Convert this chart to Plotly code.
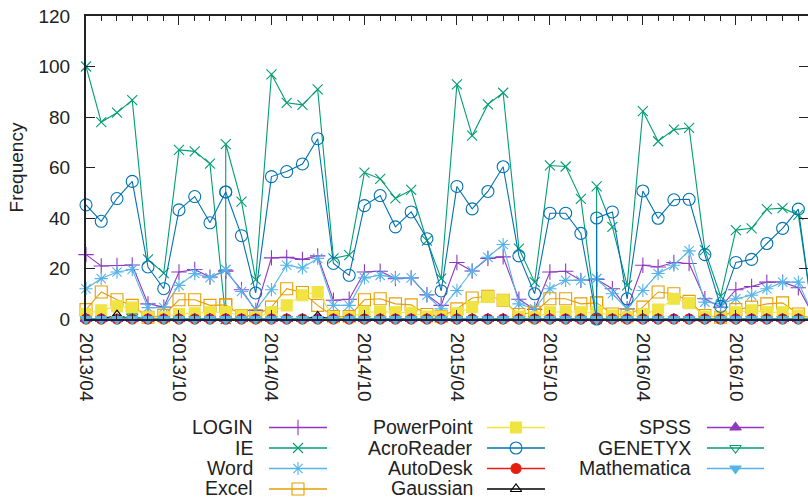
import plotly.graph_objects as go

# ---------------- data ----------------
dates = [
    "2013-04-01", "2013-05-01", "2013-06-01", "2013-07-01", "2013-08-01", "2013-09-01",
    "2013-10-01", "2013-11-01", "2013-12-01", "2014-01-01", "2014-01-01", "2014-02-01",
    "2014-03-01", "2014-04-01", "2014-05-01", "2014-06-01", "2014-07-01", "2014-08-01",
    "2014-09-01", "2014-10-01", "2014-11-01", "2014-12-01", "2015-01-01", "2015-02-01",
    "2015-03-01", "2015-04-01", "2015-05-01", "2015-06-01", "2015-07-01", "2015-08-01",
    "2015-09-01", "2015-10-01", "2015-11-01", "2015-12-01", "2016-01-01", "2016-01-01",
    "2016-02-01", "2016-03-01", "2016-04-01", "2016-05-01", "2016-06-01", "2016-07-01",
    "2016-08-01", "2016-09-01", "2016-10-01", "2016-11-01", "2016-12-01", "2017-01-01",
    "2017-02-01", "2017-03-01",
]

LOGIN = [25.5, 21, 21.2, 21.4, 6, 4.7, 18.6, 19.6, 16.6, 19, 19, 11.6, 3.4, 24.2, 24.4, 23.6, 25,
         7.4, 7.8, 18.6, 18.9, 16, 16.3, 9.6, 5.4, 22.4, 19, 24, 24.6, 7.8, 3.8, 18.6, 18.9, 15.3,
         15.7, 15.7, 12, 4, 21.3, 20.6, 22.4, 22, 8, 4.7, 11.6, 12.9, 14.6, 14.6, 12.4, 2]
IE = [100, 78, 81.7, 86.7, 23.6, 18.2, 67, 66.4, 61.5, 0, 69.3, 46.5, 15.6, 96.9, 85.6, 84.8, 90.9,
      24, 25.3, 58, 55.5, 47.8, 51.1, 31, 16, 92.9, 72.6, 85, 89.6, 27.9, 14.6, 60.8, 60.4, 47.6,
      0, 52.5, 36.5, 13.3, 82.3, 70.4, 75, 75.7, 27.3, 9, 35.2, 35.9, 43.5, 43.9, 41.2, 2]
Word = [12, 16, 18.6, 19.6, 4.5, 4.5, 13.3, 18, 16.4, 19.6, 19.6, 10.9, 3.7, 11.6, 21.3, 20.2, 24,
        5.4, 5.4, 16.3, 17.3, 16.3, 16.3, 9.4, 4, 11.3, 19, 24.4, 29.5, 6, 4, 12, 15.3, 15.3,
        16, 16, 10, 4, 11.3, 18, 21.3, 27, 6.7, 6, 8, 9.4, 12, 14.6, 14.6, 2]
Excel = [3.7, 10.7, 7.6, 5.4, 0.7, 1.4, 7.6, 7.6, 5.4, 5.6, 5.6, 1.4, 1.4, 4.7, 12, 10.5, 5.4,
         1, 1, 7.6, 8, 6, 5.6, 1.8, 1, 4, 8.3, 9, 7.4, 1.8, 2.7, 8, 8, 6,
         6.4, 6.4, 2, 1.4, 4.7, 10.7, 10, 7, 1.4, 0.7, 3.7, 4.7, 6, 6.4, 2, 0]
PowerPoint = [2, 3.4, 5, 4.5, 0.7, 0.7, 2, 2.3, 2.7, 2.7, 2.7, 1.4, 0.7, 2.7, 5.4, 9.4, 10.7,
              0.7, 0.7, 2.7, 2.9, 2.7, 2.5, 1, 1, 2.3, 4.7, 8.7, 7.4, 1, 0.7, 2.7, 2.9, 2.7,
              2.7, 2.7, 1.4, 0.7, 2, 3.7, 8, 6.3, 1, 0.7, 2.7, 3.4, 2.7, 2.7, 1.4, 0]
AcroReader = [45.2, 38.7, 47.7, 54.5, 20.6, 12, 43.2, 48.5, 38.1, 50.3, 50.3, 33, 10.3, 56.4, 58.4,
              61.4, 71.4, 22, 17.3, 44.9, 48.9, 36.5, 42.4, 31.8, 11.1, 52.5, 43.6, 50.5, 60.3, 25,
              10, 41.9, 41.9, 33.9, 0, 40, 42.4, 8, 50.7, 39.9, 47.2, 47.4, 25.5, 5, 22.4, 23.6,
              29.9, 35.9, 43.5, 2]
AutoDesk = [0, 0, 0, 0, 0, 0, 0, 0, 0, 0, 0, 0, 0, 0, 0, 0, 0, 0, 0, 0, 0, 0, 0, 0, 0,
            0, 0, 0, 0, 0, 0, 0, 0, 0, 0, 0, 0, 0, 0, 0, 0, 0, 0, 0, 0, 0, 0, 0, 0, 0]
Gaussian = [0, 0, 1.5, 0, 0, 0, 0, 0, 0, 0, 0, 0, 0, 0, 0, 0, 1, 0, 0, 0, 0, 0, 0, 0, 0,
            0, 0, 0, 0, 0, 0, 0, 0, 0, 0, 0, 0, 0, 0, 0, 0, 0, 0, 0, 0, 0, 0, 0, 0, 0]
SPSS = [0, 0, 0, 0, 0, 0, 0, 0, 0, 0, 0, 0, 0, 0, 0, 0, 0, 0, 0, 0, 0, 0, 0, 0, 0,
        0, 0, 0, 0, 0, 0, 0, 0, 0, 0, 0, 0, 0, 0, 0, 0, 0, 0, 0, 0, 0, 0, 0, 0, 0]
GENETYX = [0, 0, 0, 1, 0, 0, 0, 0, 0, 0, 0, 0, 0, 0, 0, 0, 0, 0, 0, 0, 0, 0, 0, 0, 0,
           0, 0, 0, 0, 0, 0, 0, 0, 0, 0, 0, 0, 0, 0, 0, 0, 0, 0, 0, 0, 0, 0, 0, 0, 0]
Mathematica = [0, 0, 0, 0, 0, 0, 0, 0, 0, 0, 0, 0, 0, 0, 0, 0, 0, 0, 0, 0, 0, 0, 0, 0, 0,
               0, 0, 0, 0, 0, 0, 0, 0, 0, 0, 0, 0, 0, 0, 0, 0, 0, 0, 0, 0, 0, 0, 0, 0, 0]

series_names = ["LOGIN", "IE", "Word", "Excel", "PowerPoint", "AcroReader", "AutoDesk",
                "Gaussian", "SPSS", "GENETYX", "Mathematica"]
series_values = [LOGIN, IE, Word, Excel, PowerPoint, AcroReader, AutoDesk, Gaussian,
                 SPSS, GENETYX, Mathematica]

tick_dates = ["2013-04-01", "2013-10-01", "2014-04-01", "2014-10-01", "2015-04-01",
              "2015-10-01", "2016-04-01", "2016-10-01"]
tick_labels = ["2013/04", "2013/10", "2014/04", "2014/10", "2015/04", "2015/10",
               "2016/04", "2016/10"]

# ---------------- styles ----------------
colors = ["#9038c0", "#009e73", "#56b4e9", "#e69f00", "#f0e442", "#0072b2", "#e51e10",
          "#000000", "#9038c0", "#009e73", "#56b4e9"]
symbols = ["cross-thin-open", "x-thin-open", "asterisk-open", "square-open", "square",
           "circle-open", "circle", "triangle-up-open", "triangle-up", "triangle-down-open",
           "triangle-down"]
sizes = [11, 10, 11, 12, 11, 12, 10, 10, 10, 10, 10]

FONT = "Liberation Sans, Arial, sans-serif"
W, H = 808, 499
ML, MT = 86, 16
PLOT_BOTTOM = 319
paper_h = H - MT
main_bottom = (H - PLOT_BOTTOM) / paper_h
leg_top_px = 410
leg_top = (H - leg_top_px) / paper_h

fig = go.Figure()

for name, vals, c, s, sz in zip(series_names, series_values, colors, symbols, sizes):
    fig.add_trace(go.Scatter(
        x=dates, y=vals, name=name, mode="lines+markers",
        line=dict(color=c, width=1.1),
        marker=dict(symbol=s, size=sz, color=c, line=dict(color=c, width=1.1)),
        cliponaxis=False, showlegend=False, xaxis="x", yaxis="y",
    ))

# ---------------- manual gnuplot-style key ----------------
col_text_right = [255, 475, 693]
col_line = [(269, 327), (487, 545), (707, 764)]
row_y = [427.5, 448, 468.5, 489]
text_row_y = [427, 447.5, 468, 487.5]
shapes = []
annotations = []
for k, (name, c, s, sz) in enumerate(zip(series_names, colors, symbols, sizes)):
    col, row = k // 4, k % 4
    x0, x1 = col_line[col]
    yy = row_y[row]
    shapes.append(dict(type="line", xref="x2", yref="y2", x0=x0, x1=x1, y0=yy, y1=yy,
                       line=dict(color=c, width=1.3)))
    fig.add_trace(go.Scatter(
        x=[(x0 + x1) / 2], y=[yy], mode="markers", showlegend=False, hoverinfo="skip",
        marker=dict(symbol=s, size=sz, color=c, line=dict(color=c, width=1.1)),
        cliponaxis=False, xaxis="x2", yaxis="y2",
    ))
    annotations.append(dict(x=col_text_right[col], y=text_row_y[row], xref="x2", yref="y2",
                            text=name, showarrow=False, xanchor="right", yanchor="middle",
                            font=dict(family=FONT, size=19.5, color="#222222")))

fig.update_layout(
    width=W, height=H,
    margin=dict(l=ML, r=0, t=MT, b=0, pad=0, autoexpand=False),
    paper_bgcolor="white", plot_bgcolor="white",
    font=dict(family=FONT, size=19, color="#222222"),
    showlegend=False,
    shapes=shapes, annotations=annotations,
    xaxis=dict(
        type="date", domain=[0, 1], anchor="y", automargin=False,
        range=["2013-04-01", "2017-02-20"],
        tickmode="array", tickvals=tick_dates, ticktext=tick_labels,
        tickangle=90, ticks="inside", ticklen=9, tickwidth=1, tickcolor="#222222",
        ticklabelstandoff=8,
        minor=dict(ticks="inside", dtick="M1", tick0="2013-04-01", ticklen=5,
                   tickwidth=1, tickcolor="#222222", showgrid=False),
        showline=True, linewidth=2, linecolor="#222222", mirror="ticks",
        showgrid=False, zeroline=False,
        tickfont=dict(family=FONT, size=19, color="#222222"),
    ),
    yaxis=dict(
        domain=[main_bottom, 1], anchor="x", automargin=False,
        range=[0, 120], tickmode="linear", tick0=0, dtick=20,
        ticks="inside", ticklen=9, tickwidth=1, tickcolor="#222222",
        ticklabelstandoff=10,
        showline=True, linewidth=2, linecolor="#222222", mirror="ticks",
        showgrid=False, zeroline=False,
        title=dict(text="Frequency", standoff=10,
                   font=dict(family=FONT, size=19, color="#222222")),
        tickfont=dict(family=FONT, size=19, color="#222222"),
    ),
    xaxis2=dict(domain=[0, 1], anchor="y2", range=[ML, W], visible=False, fixedrange=True,
                automargin=False),
    yaxis2=dict(domain=[0, leg_top], anchor="x2", range=[H, leg_top_px], visible=False,
                fixedrange=True, automargin=False),
)

fig.write_html("out.html")
